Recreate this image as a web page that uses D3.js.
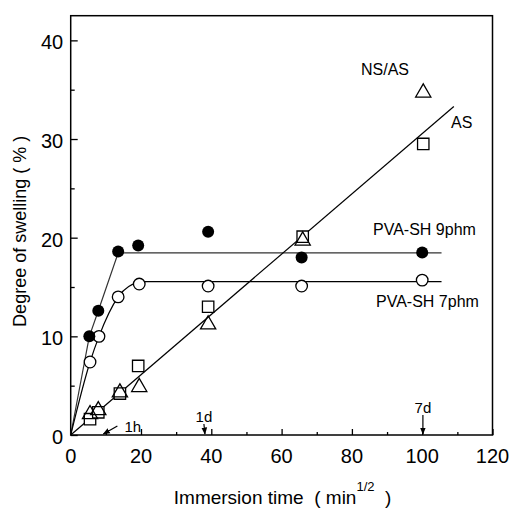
<!DOCTYPE html>
<html>
<head>
<meta charset="utf-8">
<script src="https://cdn.jsdelivr.net/npm/d3@7"></script>
<style>
  body { margin: 0; background: #fff; }
  svg { display: block; font-family: "Liberation Sans", Arial, sans-serif; }
  text { white-space: pre; }
</style>
</head>
<body>
<svg width="511" height="512"></svg>
<script>
// data (x = sqrt of minutes)
const pva9X = [5.3, 7.85, 13.5, 19.2, 39.1, 65.7, 100];
const pva9Y = [10.0, 12.6, 18.6, 19.2, 20.6, 18.0, 18.5];
const pva7X = [5.5, 8.05, 13.5, 19.5, 39.1, 65.7, 100];
const pva7Y = [7.4, 10.0, 14.0, 15.3, 15.1, 15.1, 15.7];
const asX = [5.5, 7.85, 14, 19.2, 39.1, 66, 100.3];
const asY = [1.6, 2.3, 4.2, 7.0, 13.0, 20.1, 29.5];
const nsasX = [5.5, 7.85, 14, 19.5, 39.1, 66, 100.3];
const nsasY = [2.1, 2.5, 4.3, 4.85, 11.2, 19.7, 34.7];

// drawn trend lines
const pva9FitX = [0, 5.3, 7.85, 13.5, 105.5];
const pva9FitY = [0, 10.0, 12.6, 18.45, 18.45];
const pva7CurveX = [0, 5.5, 8.05, 13.5, 19.5];
const pva7CurveY = [0, 7.4, 10.0, 14.0, 15.55];
const pva7FlatX = [19.5, 105.5];
const pva7FlatY = [15.55, 15.55];
const asFitX = [0, 109];
const asFitY = [0, 33.3];

// time markers on the x axis
const markLabels = ['1h', '1d', '7d'];
const markX = [9.3, 37.9, 100.2];

const xMajor = [0, 20, 40, 60, 80, 100, 120];
const yMajor = [0, 10, 20, 30, 40];

const svg = d3.select('svg');
const L = 70.7, R = 492.5, T = 15.7, B = 435;
const x = d3.scaleLinear().domain([0, 120]).range([L, R]);
const y = d3.scaleLinear().domain([0, 42.5]).range([B, T]);

const zip = (xs, ys) => xs.map((v, i) => [v, ys[i]]);
const line = d3.line().x(d => x(d[0])).y(d => y(d[1]));

// frame
svg.append('rect')
   .attr('x', L).attr('y', T).attr('width', R - L).attr('height', B - T)
   .attr('fill', 'none').attr('stroke', '#000').attr('stroke-width', 1.5);

// bottom axis, ticks pointing inward
const xAxis = svg.append('g').attr('transform', `translate(0,${B})`);
xAxis.call(d3.axisTop(x).tickValues(d3.range(10, 120, 20)).tickSize(3).tickFormat(''));
xAxis.append('g').call(d3.axisTop(x).tickValues(xMajor).tickSize(6).tickFormat(''));
xAxis.selectAll('.domain').remove();
xAxis.selectAll('line').attr('stroke-width', 1.3);
svg.append('g').selectAll('text').data(xMajor).join('text')
   .attr('x', d => x(d)).attr('y', B + 27.5)
   .attr('text-anchor', 'middle').attr('font-size', 20)
   .text(d => d);

// left axis
const yAxis = svg.append('g').attr('transform', `translate(${L},0)`);
yAxis.call(d3.axisRight(y).tickValues(d3.range(5, 42, 10)).tickSize(4).tickFormat(''));
yAxis.append('g').call(d3.axisRight(y).tickValues(yMajor).tickSize(7).tickFormat(''));
yAxis.selectAll('.domain').remove();
yAxis.selectAll('line').attr('stroke-width', 1.3);
svg.append('g').selectAll('text').data(yMajor).join('text')
   .attr('x', L - 7.5).attr('y', d => y(d) + 9)
   .attr('text-anchor', 'end').attr('font-size', 20)
   .text(d => d);

// axis titles
svg.append('text')
   .attr('transform', `translate(26,${(T + B) / 2 + 6}) rotate(-90)`)
   .attr('text-anchor', 'middle').attr('font-size', 18)
   .text('Degree of swelling ( % )');
const xt = svg.append('text')
   .attr('x', (L + R) / 2 + 1).attr('y', 504)
   .attr('text-anchor', 'middle').attr('font-size', 19);
xt.append('tspan').text('Immersion time  ( min');
xt.append('tspan').attr('dy', -13).attr('font-size', 13).text('1/2');
xt.append('tspan').attr('dy', 13).text('  )');

// trend lines
const lines = svg.append('g').attr('fill', 'none').attr('stroke', '#000').attr('stroke-width', 1.2);
lines.append('path').attr('d', line(zip(pva9FitX, pva9FitY))).attr('stroke', '#333');
lines.append('path').attr('d', line.curve(d3.curveMonotoneX)(zip(pva7CurveX, pva7CurveY)));
line.curve(d3.curveLinear);
lines.append('path').attr('d', line(zip(pva7FlatX, pva7FlatY)));
lines.append('path').attr('d', line(zip(asFitX, asFitY)));

// markers
const sym = (type, size) => d3.symbol().type(type).size(size)();
svg.append('g').selectAll('path').data(zip(asX, asY)).join('path')
   .attr('transform', d => `translate(${x(d[0])},${y(d[1])})`)
   .attr('d', sym(d3.symbolSquare, 130))
   .attr('fill', '#fff').attr('stroke', '#000').attr('stroke-width', 1.3);
svg.append('g').selectAll('path').data(zip(nsasX, nsasY)).join('path')
   .attr('transform', d => `translate(${x(d[0])},${y(d[1])})`)
   .attr('d', sym(d3.symbolTriangle, 100))
   .attr('fill', 'none').attr('stroke', '#000').attr('stroke-width', 1.3);
svg.append('g').selectAll('circle').data(zip(pva7X, pva7Y)).join('circle')
   .attr('cx', d => x(d[0])).attr('cy', d => y(d[1])).attr('r', 5.8)
   .attr('fill', '#fff').attr('stroke', '#000').attr('stroke-width', 1.3);
svg.append('g').selectAll('circle').data(zip(pva9X, pva9Y)).join('circle')
   .attr('cx', d => x(d[0])).attr('cy', d => y(d[1])).attr('r', 6)
   .attr('fill', '#000');

// series labels
const lab = (tx, ty, s, anchor) => svg.append('text')
   .attr('x', tx).attr('y', ty).attr('font-size', 16)
   .attr('text-anchor', anchor || 'start').text(s);
lab(385, 75, 'NS/AS', 'middle');
lab(451, 128, 'AS');
lab(373, 235, 'PVA-SH 9phm');
lab(376, 307, 'PVA-SH 7phm');

// time markers with arrows
svg.append('defs').append('marker')
   .attr('id', 'ah').attr('viewBox', '0 0 10 10').attr('refX', 9).attr('refY', 5)
   .attr('markerWidth', 6).attr('markerHeight', 6).attr('orient', 'auto')
   .append('path').attr('d', 'M0,1L10,5L0,9Z').attr('fill', '#000');
const arrows = svg.append('g').attr('stroke', '#000').attr('stroke-width', 1.2);
// 1h arrow comes in from the upper right
arrows.append('line')
   .attr('x1', x(markX[0]) + 14).attr('y1', B - 9)
   .attr('x2', x(markX[0])).attr('y2', B - 1).attr('marker-end', 'url(#ah)');
arrows.append('line')
   .attr('x1', x(markX[1])).attr('y1', B - 11)
   .attr('x2', x(markX[1]) + 1).attr('y2', B - 1).attr('marker-end', 'url(#ah)');
arrows.append('line')
   .attr('x1', x(markX[2])).attr('y1', B - 20)
   .attr('x2', x(markX[2])).attr('y2', B - 1).attr('marker-end', 'url(#ah)');
svg.append('text').attr('x', x(markX[0]) + 21).attr('y', B - 3).attr('font-size', 15).text(markLabels[0]);
svg.append('text').attr('x', x(markX[1])).attr('y', B - 13.5).attr('font-size', 15)
   .attr('text-anchor', 'middle').text(markLabels[1]);
svg.append('text').attr('x', x(markX[2])).attr('y', B - 22).attr('font-size', 15)
   .attr('text-anchor', 'middle').text(markLabels[2]);
</script>
</body>
</html>
